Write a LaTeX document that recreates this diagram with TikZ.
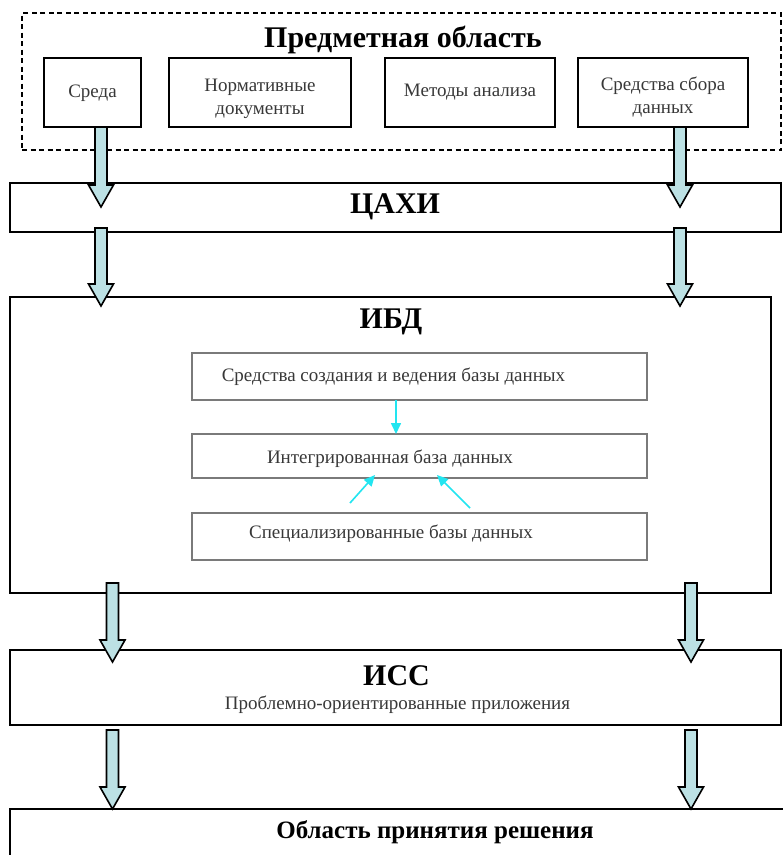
\documentclass[tikz,border=0pt]{standalone}
\usepackage{fontspec}
\setmainfont{Liberation Serif}
\usetikzlibrary{calc,arrows.meta}

\definecolor{arrowfill}{HTML}{BCE1E4}
\definecolor{linkcyan}{HTML}{22E5F0}
\definecolor{txtgray}{HTML}{383838}
\definecolor{innergray}{HTML}{7A7A7A}

% Block arrow going straight down: #1 = x position, #2 = start point, #3 = tip point
\newcommand\blockarrow[3]{%
  \draw[blockarrow] let \p1=(#2), \p2=(#3) in
    (#1pt-6pt,\y1) -- (#1pt-6pt,\y2+22pt) -- (#1pt-12.5pt,\y2+22pt) -- (#1pt,\y2)
    -- (#1pt+12.5pt,\y2+22pt) -- (#1pt+6pt,\y2+22pt) -- (#1pt+6pt,\y1) -- cycle;}

\begin{document}
\begin{tikzpicture}[x=1pt,y=-1pt,
  every node/.style={inner sep=0pt,outer sep=0pt},
  frame/.style={draw=black,line width=1.8pt,rectangle},
  smallbox/.style={draw=black,line width=2pt,rectangle,minimum height=69},
  innerbox/.style={draw=innergray,line width=2pt,rectangle,minimum width=455,minimum height=46},
  plain/.style={font=\fontsize{19}{23}\selectfont,text=txtgray,align=center,yshift=-2pt},
  heading/.style={font=\fontsize{30}{34}\selectfont\bfseries,text=black},
  blockarrow/.style={draw=black,line width=1.6pt,fill=arrowfill,line join=miter},
  link/.style={draw=linkcyan,line width=1.6pt,-{Triangle[length=11pt,width=10pt]}}]

\useasboundingbox (0,0) rectangle (783,855);
\fill[white] (0,0) rectangle (783,855);

% subject area
\node[draw=black,line width=1.2pt,dash pattern=on 5pt off 3.5pt,
      minimum width=759,minimum height=137] (subject) at (401.5,81.5) {};
\node[heading] (subjecttitle) at (403,40) {Предметная область};
\node[smallbox,minimum width=97] (sreda) at (92.5,92.5) {};
\node[plain] (sredalabel) at (92.5,91) {Среда};
\node[smallbox,minimum width=182] (norm) at (260,92.5) {};
\node[plain] (normlabel) at (260,97) {Нормативные\\документы};
\node[smallbox,minimum width=170] (methods) at (470,92.5) {};
\node[plain] (methodslabel) at (470,90) {Методы анализа};
\node[smallbox,minimum width=170] (collect) at (663,92.5) {};
\node[plain] (collectlabel) at (663,95.5) {Средства сбора\\данных};

% ЦАХИ
\node[frame,minimum width=771,minimum height=49] (cahi) at (395.5,207.5) {};
\node[heading] (cahilabel) at (395,207) {ЦАХИ};

% ИБД
\node[frame,minimum width=761,minimum height=296] (ibd) at (390.5,445) {};
\node[heading] (ibdlabel) at (391,322) {ИБД};
\node[innerbox,minimum height=47] (tools) at (419.5,376.5) {};
\node[plain] (toolslabel) at (393.5,375) {Средства создания и ведения базы данных};
\node[innerbox,minimum height=44] (integrated) at (419.5,456) {};
\node[plain] (integratedlabel) at (390,457) {Интегрированная база данных};
\node[innerbox,minimum height=47] (special) at (419.5,536.5) {};
\node[plain] (speciallabel) at (391,532) {Специализированные базы данных};

\coordinate (sl) at ($(special.north)+(-69.5,-10)$);
\coordinate (sr) at ($(special.north)+(50.5,-5)$);
\draw[link] (tools.south -| 396,0) -- (integrated.north -| 396,0);
\draw[link] (sl) -- ($(integrated.south)+(-44.5,-3)$);
\draw[link] (sr) -- ($(integrated.south)+(17.5,-3)$);

% ИСС
\node[frame,minimum width=771,minimum height=75] (iss) at (395.5,687.5) {};
\node[heading] (isslabel) at (396.5,676) {ИСС};
\node[plain] (isssub) at (397.5,703) {Проблемно-ориентированные приложения};

% decision area
\node[frame,minimum width=850,minimum height=90] (decision) at (435,854) {};
\node[heading,font=\fontsize{25}{30}\selectfont\bfseries] (decisionlabel) at (435,832) {Область принятия решения};

% flow arrows
\blockarrow{101}{sreda.south -| 101,0}{$(cahi.north)+(0,24)$}
\blockarrow{680}{collect.south -| 680,0}{$(cahi.north)+(0,24)$}
\blockarrow{101}{$(cahi.south)+(0,-4)$}{$(ibd.north)+(0,9)$}
\blockarrow{680}{$(cahi.south)+(0,-4)$}{$(ibd.north)+(0,9)$}
\blockarrow{112.5}{$(ibd.south)+(0,-10)$}{$(iss.north)+(0,12)$}
\blockarrow{691}{$(ibd.south)+(0,-10)$}{$(iss.north)+(0,12)$}
\blockarrow{112.5}{$(iss.south)+(0,5)$}{decision.north}
\blockarrow{691}{$(iss.south)+(0,5)$}{decision.north}
\end{tikzpicture}
\end{document}
